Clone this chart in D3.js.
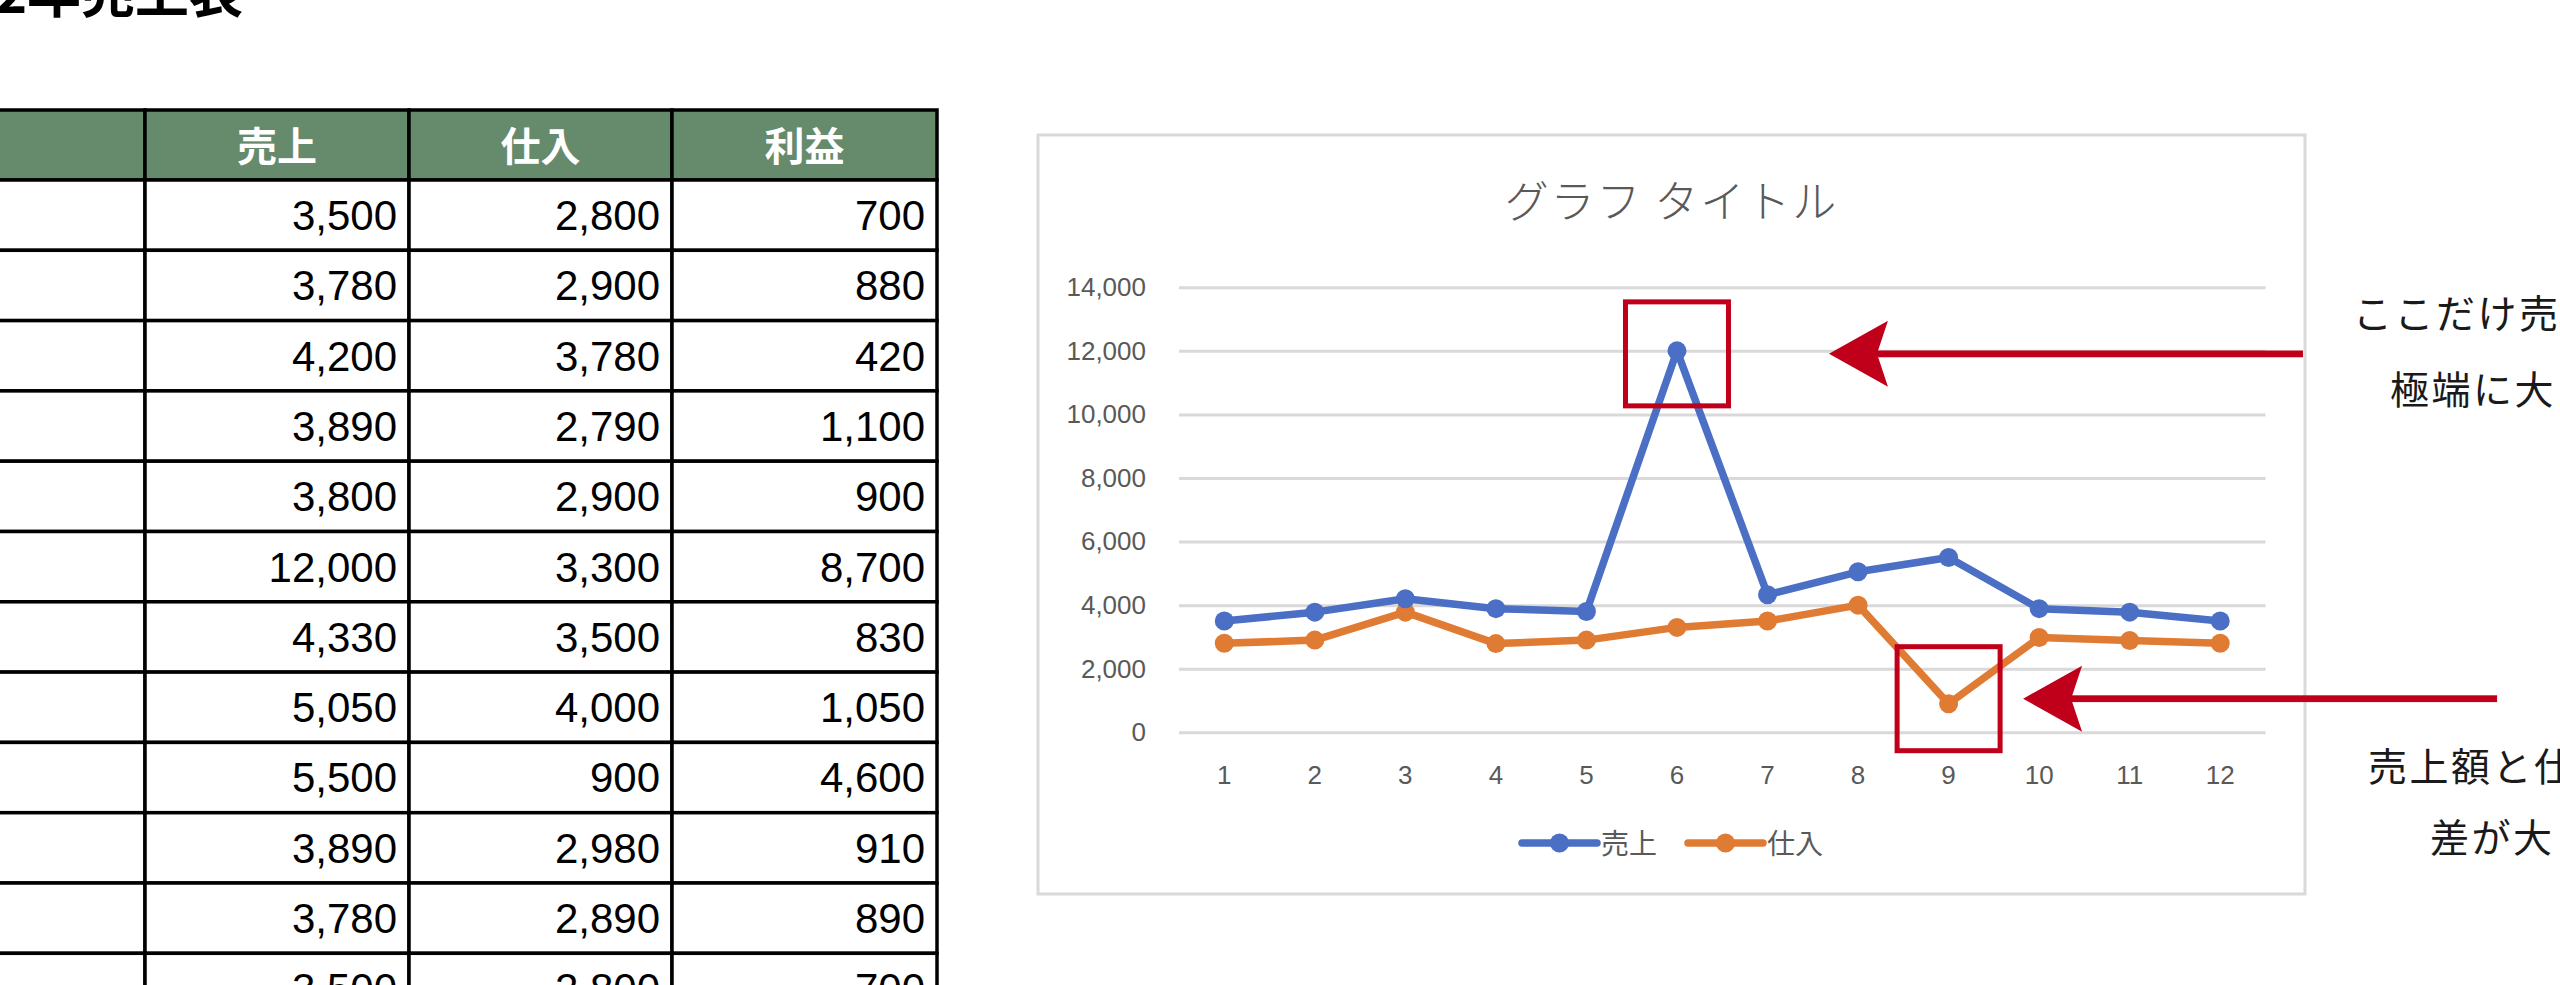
<!DOCTYPE html>
<html>
<head>
<meta charset="utf-8" />
<script src="https://cdn.jsdelivr.net/npm/d3@7"></script>
<style>
  html, body { margin: 0; padding: 0; background: #fff; overflow: hidden; }
  svg { display: block; }
</style>
</head>
<body>
<div id="sheet"></div>
<script>
// month categories
const MONTHS = ["1", "2", "3", "4", "5", "6", "7", "8", "9", "10", "11", "12"];
const SALES = [3500, 3780, 4200, 3890, 3800, 12000, 4330, 5050, 5500, 3890, 3780, 3500];
const COSTS = [2800, 2900, 3780, 2790, 2900, 3300, 3500, 4000, 900, 2980, 2890, 2800];
const PROFIT = [700, 880, 420, 1100, 900, 8700, 830, 1050, 4600, 910, 890, 700];
const HEADERS = ["売上", "仕入", "利益"];
const Y_TICKS = [0, 2000, 4000, 6000, 8000, 10000, 12000, 14000];
const SERIES_NAMES = ["売上", "仕入"];

const W = 2560;
const H = 985;
const RED = "#c0001a";
const GRAY = "#595959";
const JP = "'Noto Sans CJK JP', 'Noto Sans', sans-serif";
const NUM = "'Liberation Sans', Arial, sans-serif";

const fmt = d3.format(",");

const svg = d3
  .select("#sheet")
  .append("svg")
  .attr("width", W)
  .attr("height", H)
  .attr("viewBox", `0 0 ${W} ${H}`);

// sheet title, mostly cut off at the top
svg.append("text")
  .attr("x", 243)
  .attr("y", 13)
  .attr("text-anchor", "end")
  .attr("font-family", JP)
  .attr("font-weight", 700)
  .attr("font-size", 54)
  .attr("fill", "#000")
  .text("2022年売上表");

// ---- table ----
const renderTable = () => {
  const colEdges = [-130, 145, 409, 672, 937];
  const headTop = 110;
  const headH = 70;
  const rows = d3.range(SALES.length).map((i) => [SALES[i], COSTS[i], PROFIT[i]]);

  const yRow = d3
    .scaleBand()
    .domain(d3.range(rows.length))
    .range([headTop + headH, headTop + headH + 70.3 * rows.length]);

  const t = svg.append("g").attr("class", "table");

  // header cells
  t.selectAll("rect.head")
    .data(d3.range(4))
    .join("rect")
    .attr("class", "head")
    .attr("x", (i) => colEdges[i])
    .attr("y", headTop)
    .attr("width", (i) => colEdges[i + 1] - colEdges[i])
    .attr("height", headH)
    .attr("fill", "#668a6c")
    .attr("stroke", "#000")
    .attr("stroke-width", 3.5);

  t.selectAll("text.head")
    .data(HEADERS)
    .join("text")
    .attr("class", "head")
    .attr("x", (d, i) => (colEdges[i + 1] + colEdges[i + 2]) / 2)
    .attr("y", headTop + 51)
    .attr("text-anchor", "middle")
    .attr("font-family", JP)
    .attr("font-weight", 700)
    .attr("font-size", 40)
    .attr("fill", "#fff")
    .text((d) => d);

  const row = t
    .selectAll("g.row")
    .data(rows)
    .join("g")
    .attr("class", "row")
    .attr("transform", (d, i) => `translate(0,${yRow(i)})`);

  row.selectAll("rect")
    .data(d3.range(4))
    .join("rect")
    .attr("x", (i) => colEdges[i])
    .attr("y", 0)
    .attr("width", (i) => colEdges[i + 1] - colEdges[i])
    .attr("height", yRow.bandwidth())
    .attr("fill", "#fff")
    .attr("stroke", "#000")
    .attr("stroke-width", 3.5);

  row.selectAll("text")
    .data((d) => d)
    .join("text")
    .attr("x", (d, i) => colEdges[i + 2] - 12)
    .attr("y", 50)
    .attr("text-anchor", "end")
    .attr("font-family", NUM)
    .attr("font-size", 42)
    .attr("fill", "#000")
    .text((d) => fmt(d));
};

// ---- chart ----
const renderChart = () => {
  const box = { x: 1038, y: 135, w: 1267, h: 759 };
  const left = 1179;
  const right = 2265.5;
  const top = 287.3;
  const bottom = 732.3;

  const x = d3.scaleBand().domain(MONTHS).range([left, right]);
  const y = d3.scaleLinear().domain([0, 14000]).range([bottom, top]);
  const xc = (m) => x(m) + x.bandwidth() / 2;

  const g = svg.append("g").attr("class", "chart");

  g.append("rect")
    .attr("x", box.x)
    .attr("y", box.y)
    .attr("width", box.w)
    .attr("height", box.h)
    .attr("fill", "#fff")
    .attr("stroke", "#d9d9d9")
    .attr("stroke-width", 3);

  g.append("text")
    .attr("x", box.x + box.w / 2)
    .attr("y", 218)
    .attr("text-anchor", "middle")
    .attr("font-family", JP)
    .attr("font-weight", 300)
    .attr("font-size", 44)
    .attr("letter-spacing", 2)
    .attr("fill", GRAY)
    .text("グラフ タイトル");

  // gridlines + y labels
  const yAxis = g
    .append("g")
    .attr("class", "axis axis--y")
    .attr("transform", `translate(${left},0)`)
    .call(
      d3.axisLeft(y)
        .tickValues(Y_TICKS)
        .tickFormat(fmt)
        .tickSize(-(right - left))
        .tickPadding(33)
    );
  yAxis.select(".domain").remove();
  yAxis.selectAll(".tick line").attr("stroke", "#d9d9d9").attr("stroke-width", 3);
  yAxis.selectAll(".tick text")
    .attr("font-family", NUM)
    .attr("font-size", 26)
    .attr("fill", GRAY);

  const xAxis = g
    .append("g")
    .attr("class", "axis axis--x")
    .attr("transform", `translate(0,${bottom})`)
    .call(d3.axisBottom(x).tickSize(0).tickPadding(33));
  xAxis.select(".domain").remove();
  xAxis.selectAll(".tick text")
    .attr("font-family", NUM)
    .attr("font-size", 26)
    .attr("fill", GRAY);

  const series = [
    { name: SERIES_NAMES[0], values: SALES, color: "#4a6fc4" },
    { name: SERIES_NAMES[1], values: COSTS, color: "#e07b34" },
  ];

  const line = d3
    .line()
    .x((d, i) => xc(MONTHS[i]))
    .y((d) => y(d));

  // draw purchases first so sales sits on top
  series.slice().reverse().forEach((s) => {
    g.append("path")
      .datum(s.values)
      .attr("fill", "none")
      .attr("stroke", s.color)
      .attr("stroke-width", 7.5)
      .attr("stroke-linejoin", "round")
      .attr("stroke-linecap", "round")
      .attr("d", line);

    g.append("g")
      .selectAll("circle")
      .data(s.values)
      .join("circle")
      .attr("cx", (d, i) => xc(MONTHS[i]))
      .attr("cy", (d) => y(d))
      .attr("r", 9.5)
      .attr("fill", s.color);
  });

  // legend
  const legendX = [1522, 1688];
  const legend = g
    .selectAll("g.legend")
    .data(series)
    .join("g")
    .attr("class", "legend")
    .attr("transform", (d, i) => `translate(${legendX[i]},843)`);
  legend.append("line")
    .attr("x1", 0)
    .attr("x2", 75)
    .attr("stroke", (d) => d.color)
    .attr("stroke-width", 7.5)
    .attr("stroke-linecap", "round");
  legend.append("circle")
    .attr("cx", 37.5)
    .attr("r", 9.5)
    .attr("fill", (d) => d.color);
  legend.append("text")
    .attr("x", 79)
    .attr("y", 10.5)
    .attr("font-family", JP)
    .attr("font-size", 28)
    .attr("fill", GRAY)
    .text((d) => d.name);

  // callouts: red box on the point, arrow coming from the right
  const callouts = [
    { month: "6", value: SALES[5], dy: 3, tip: 152, len: 474, lines: ["ここだけ売上額が", "極端に大きい"], tx: [2353, 2390], ty: [328, 404] },
    { month: "9", value: COSTS[8], dy: -5, tip: 74.5, len: 474, lines: ["売上額と仕入額の", "差が大きい"], tx: [2368, 2430], ty: [781, 852] },
  ];

  callouts.forEach((c) => {
    const cx = xc(c.month);
    const cy = y(c.value) + c.dy;
    g.append("rect")
      .attr("x", cx - 51.5)
      .attr("y", cy - 52)
      .attr("width", 103)
      .attr("height", 104)
      .attr("fill", "none")
      .attr("stroke", RED)
      .attr("stroke-width", 5);

    const a = svg.append("g").attr("transform", `translate(${cx + c.tip},${cy})`);
    a.append("rect")
      .attr("x", 45)
      .attr("y", -3.4)
      .attr("width", c.len - 45)
      .attr("height", 6.8)
      .attr("fill", RED);
    a.append("path")
      .attr("d", "M0,0 L59,-33 L48,0 L59,33 Z")
      .attr("fill", RED);

    c.lines.forEach((txt, i) => {
      svg.append("text")
        .attr("x", c.tx[i])
        .attr("y", c.ty[i])
        .attr("font-family", JP)
        .attr("font-size", 39)
        .attr("letter-spacing", 2.5)
        .attr("fill", "#1a1a1a")
        .text(txt);
    });
  });
};

renderTable();
renderChart();
</script>
</body>
</html>
